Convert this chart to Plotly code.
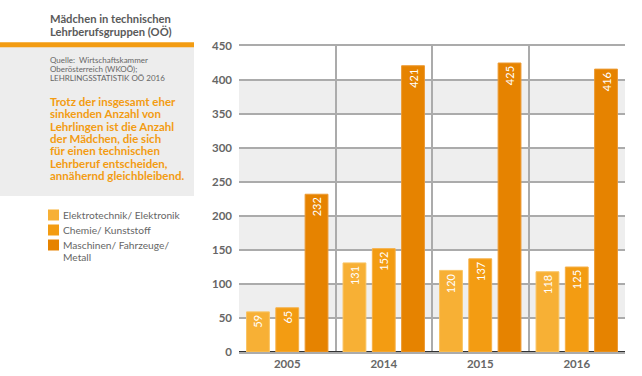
import plotly.graph_objects as go

# ---- data ----
years = ["2005", "2014", "2015", "2016"]
series_names = ["Elektrotechnik/ Elektronik", "Chemie/ Kunststoff", "Maschinen/ Fahrzeuge/"]
series_extra_line = ["", "", "Metall"]
elektro = [59, 131, 120, 118]
chemie = [65, 152, 137, 125]
maschinen = [232, 421, 425, 416]
y_ticks = [0, 50, 100, 150, 200, 250, 300, 350, 400, 450]

title_lines = ["Mädchen in technischen", "Lehrberufsgruppen (OÖ)"]
source_lines = ["Quelle:  Wirtschaftskammer", "Oberösterreich (WKOÖ);", "LEHRLINGSSTATISTIK OÖ 2016"]
note_lines = ["Trotz der insgesamt eher", "sinkenden Anzahl von", "Lehrlingen ist die Anzahl",
              "der Mädchen, die sich", "für einen technischen", "Lehrberuf entscheiden,",
              "annähernd gleichbleibend."]

colors = ["#F7B035", "#F39C12", "#E68300"]
edge_colors = ["#F9C463", "#F6B048", "#EC9A33"]
FONT = "Lato"
GRAY = "#666666"

W, H = 642, 376
L, R, T, B = 239, 17, 46, 24
PW, PH = W - L - R, H - T - B


def px(x):
    return (x - L) / PW


def py(y):
    return 1 - (y - T) / PH


fig = go.Figure()
for name, vals, col, ecol in zip(series_names, [elektro, chemie, maschinen], colors, edge_colors):
    fig.add_trace(go.Bar(
        x=years, y=vals, name=name,
        marker=dict(color=col, line=dict(color=ecol, width=1)),
        text=[str(v) for v in vals], textposition="inside", insidetextanchor="end",
        textangle=-90, textfont=dict(color="white", size=11, family=FONT),
        cliponaxis=False, showlegend=False,
    ))

shapes = []
# alternating bands
for i in range(1, len(y_ticks) - 1, 2):
    shapes.append(dict(type="rect", xref="paper", yref="y", x0=0, x1=1,
                       y0=y_ticks[i], y1=y_ticks[i + 1], fillcolor="#EEEEEE",
                       line=dict(width=0), layer="below"))
# left panel
shapes.append(dict(type="rect", xref="paper", yref="paper", x0=px(0), x1=px(194),
                   y0=py(196), y1=py(47), fillcolor="#EDEDED", line=dict(width=0), layer="below"))
shapes.append(dict(type="rect", xref="paper", yref="paper", x0=px(0), x1=px(194),
                   y0=py(47.3), y1=py(42.3), fillcolor="#F39C12", line=dict(width=0), layer="below"))

annotations = []
for i, t in enumerate(title_lines):
    annotations.append(dict(xref="paper", yref="paper", x=px(48), y=py(18 + 14 * i), text="<b>%s</b>" % t,
                            showarrow=False, xanchor="left", yanchor="middle",
                            font=dict(family=FONT, size=11.2, color="#5A5A5A")))
for i, t in enumerate(source_lines):
    annotations.append(dict(xref="paper", yref="paper", x=px(48), y=py(60 + 8.8 * i), text=t,
                            showarrow=False, xanchor="left", yanchor="middle",
                            font=dict(family=FONT, size=8, color=GRAY)))
for i, t in enumerate(note_lines):
    annotations.append(dict(xref="paper", yref="paper", x=px(48), y=py(101.5 + 12.3 * i), text="<b>%s</b>" % t,
                            showarrow=False, xanchor="left", yanchor="middle",
                            font=dict(family=FONT, size=11.5, color="#F39C12")))
# legend
leg_y = [215, 230, 245]
for i, (name, extra, col) in enumerate(zip(series_names, series_extra_line, colors)):
    shapes.append(dict(type="rect", xref="paper", yref="paper", x0=px(48), x1=px(59),
                       y0=py(leg_y[i] + 5.5), y1=py(leg_y[i] - 5.5), fillcolor=col, line=dict(width=0)))
    annotations.append(dict(xref="paper", yref="paper", x=px(61), y=py(leg_y[i]), text=name,
                            showarrow=False, xanchor="left", yanchor="middle",
                            font=dict(family=FONT, size=10.2, color=GRAY)))
    if extra:
        annotations.append(dict(xref="paper", yref="paper", x=px(61), y=py(leg_y[i] + 12), text=extra,
                                showarrow=False, xanchor="left", yanchor="middle",
                                font=dict(family=FONT, size=10.2, color=GRAY)))

fig.update_layout(
    width=W, height=H, margin=dict(l=L, r=R, t=T, b=B, pad=0, autoexpand=False),
    paper_bgcolor="white", plot_bgcolor="white",
    barmode="group", bargap=0.09, bargroupgap=0.22,
    shapes=shapes, annotations=annotations,
    font=dict(family=FONT, color=GRAY),
    xaxis=dict(tickson="boundaries", showgrid=True, gridcolor="#ABABAB", gridwidth=1.5,
               ticks="", tickfont=dict(family=FONT, size=11.5, color=GRAY, weight="bold"),
               showline=True, linecolor="#ABABAB", linewidth=1.5, mirror=True,
               ticklabelstandoff=0, automargin=False),
    yaxis=dict(range=[0, 450], tickvals=y_ticks, showgrid=True, gridcolor="#ABABAB", gridwidth=1.5,
               zeroline=True, zerolinecolor="#333333", zerolinewidth=1.5,
               ticks="", tickfont=dict(family=FONT, size=11.5, color=GRAY, weight="bold"),
               ticklabelstandoff=6, showline=False, fixedrange=True, automargin=False),
)

fig.write_html("out.html", config={"displayModeBar": False},
               post_script="document.body.style.margin='0';document.body.style.padding='0';")
